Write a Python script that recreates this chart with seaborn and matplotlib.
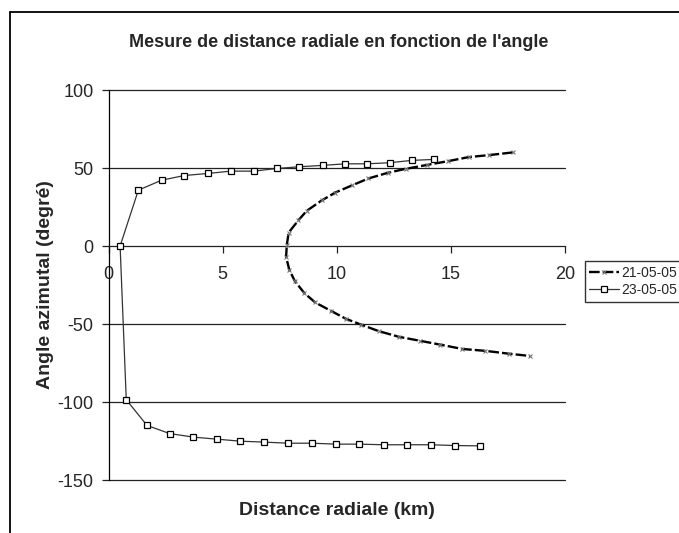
import matplotlib
matplotlib.use("Agg")
import matplotlib.pyplot as plt
from matplotlib.lines import Line2D
import seaborn as sns
import pandas as pd

# Radial distance (km) and azimuth angle (degrees), ordered by decreasing angle
dist_2105 = [17.72, 16.69, 15.79, 14.88, 13.97, 13.03, 12.23, 11.39, 10.66, 9.94,
             9.34, 8.68, 8.32, 7.89, 7.81, 7.78, 7.92, 8.16, 8.58, 9.06,
             9.74, 10.41, 11.07, 11.85, 12.73, 13.67, 14.54, 15.51, 16.52, 17.54, 18.48]
angle_2105 = [60.0, 58.3, 57.0, 54.4, 52.0, 49.5, 46.9, 43.3, 38.8, 34.3,
              29.2, 22.5, 16.5, 8.6, 0.4, -7.0, -15.2, -22.4, -30.2, -36.2,
              -41.5, -46.7, -50.4, -54.6, -58.2, -60.8, -63.2, -66.0, -67.2, -69.0, -70.5]

dist_2305 = [14.25, 13.30, 12.33, 11.32, 10.38, 9.39, 8.35, 7.37, 6.37, 5.35,
             4.34, 3.32, 2.32, 1.30, 0.50, 0.77, 1.68, 2.67, 3.71, 4.74,
             5.77, 6.82, 7.88, 8.90, 9.98, 10.99, 12.07, 13.08, 14.14, 15.20, 16.29]
angle_2305 = [55.5, 54.9, 53.4, 52.7, 52.7, 51.7, 50.8, 49.7, 48.0, 48.0,
              46.5, 45.2, 42.2, 35.8, 0.0, -98.5, -115.0, -120.2, -122.5, -123.8,
              -125.1, -125.7, -126.4, -126.4, -127.0, -127.0, -127.4, -127.4, -127.4, -127.9, -128.1]

series_names = ["21-05-05", "23-05-05"]
x_ticks = [0, 5, 10, 15, 20]
y_ticks = [-150, -100, -50, 0, 50, 100]

sns.set_style("white")
plt.rcParams["font.family"] = ["Liberation Sans", "DejaVu Sans"]

df_a = pd.DataFrame({"distance": dist_2105, "angle": angle_2105})
df_b = pd.DataFrame({"distance": dist_2305, "angle": angle_2305})

fig = plt.figure(figsize=(6.79, 5.33), dpi=100)
ax = fig.add_axes([0.1601, 0.0994, 0.8317 - 0.1601, 0.8311 - 0.0994])

sns.lineplot(data=df_a, x="distance", y="angle", sort=False, estimator=None, ax=ax,
             color="black", linewidth=1.7, linestyle=(0, (4.5, 1.3)),
             marker="x", markersize=3, markeredgewidth=0.8,
             markeredgecolor="#777777", label=series_names[0], zorder=3)
sns.lineplot(data=df_b, x="distance", y="angle", sort=False, estimator=None, ax=ax,
             color="#333333", linewidth=0.9,
             marker="s", markersize=4.2, markeredgewidth=0.9,
             markerfacecolor="white", markeredgecolor="black",
             label=series_names[1], zorder=4)

ax.set_xlim(0, 20)
ax.set_ylim(-150, 100)
ax.set_xticks(x_ticks)
ax.set_yticks(y_ticks)
ax.set_xticklabels([str(v) for v in x_ticks])
ax.set_yticklabels([str(v) for v in y_ticks])

# Horizontal reference lines at every major tick except the x axis itself
for v in y_ticks:
    if v != 0:
        ax.axhline(v, color="#222222", linewidth=0.9, zorder=1, clip_on=False)

for s in ["top", "right"]:
    ax.spines[s].set_visible(False)
ax.spines["bottom"].set_position(("data", 0))
ax.spines["left"].set_position(("data", 0))
ax.spines["bottom"].set_color("#222222")
ax.spines["left"].set_color("black")
ax.spines["bottom"].set_linewidth(0.9)
ax.spines["left"].set_linewidth(0.9)

ax.tick_params(axis="x", direction="out", length=5, width=0.9, color="#222222",
               labelsize=13, pad=9.5, bottom=True)
ax.tick_params(axis="y", direction="out", length=5, width=0.9, color="#222222",
               labelsize=13, pad=6, left=True)

ax.set_xlabel("")
ax.set_ylabel("")
fig.text(0.4955, 0.0413, "Distance radiale (km)", ha="center", va="center",
         fontsize=14, fontweight="bold")
fig.text(0.0663, 0.4653, "Angle azimutal (degré)", ha="center", va="center",
         rotation=90, fontsize=14, fontweight="bold")
fig.text(0.4993, 0.921, "Mesure de distance radiale en fonction de l'angle",
         ha="center", va="center", fontsize=13, fontweight="bold")

# Chart frame (top and left edges)
fig.add_artist(Line2D([0.0147, 1.0], [0.9775, 0.9775], transform=fig.transFigure,
                      color="black", linewidth=1.3))
fig.add_artist(Line2D([0.0147, 0.0147], [0.0, 0.9775], transform=fig.transFigure,
                      color="black", linewidth=1.3))

leg = ax.legend(loc="upper left", bbox_to_anchor=(0.861, 0.5103),
                bbox_transform=fig.transFigure, fontsize=10, frameon=True,
                fancybox=False, handlelength=2.1, handletextpad=0.2,
                borderpad=0.35, labelspacing=0.25, borderaxespad=0)
leg.get_frame().set_edgecolor("black")
leg.get_frame().set_linewidth(1.0)

fig.savefig("out.png", dpi=100)
